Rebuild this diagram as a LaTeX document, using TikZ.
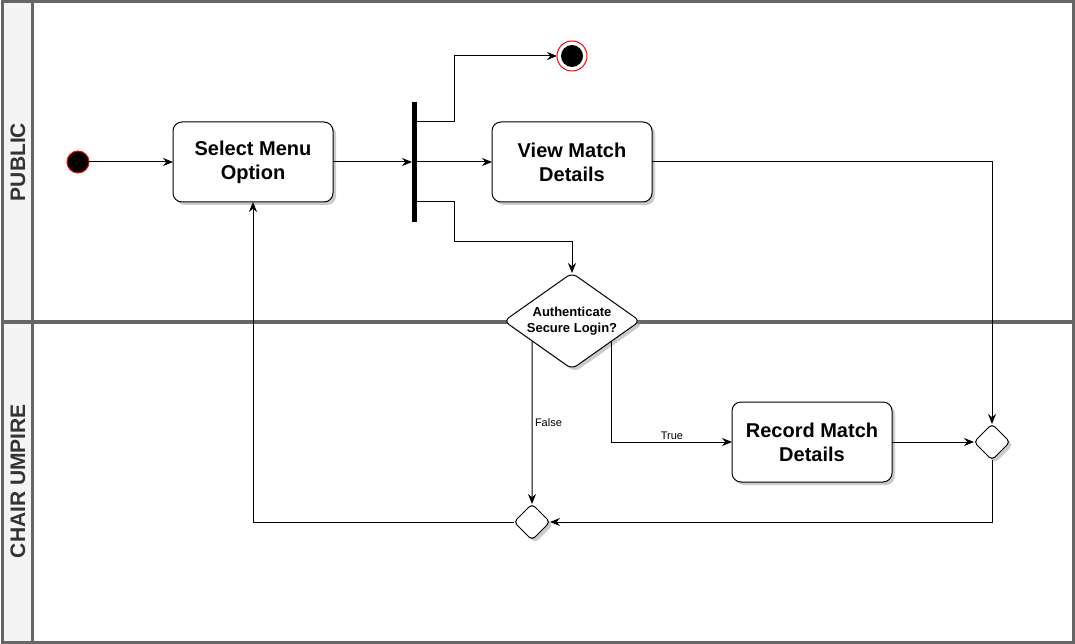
\documentclass[tikz,border=0pt]{standalone}
\usepackage{fontspec}
\setmainfont{Liberation Sans}
\usetikzlibrary{positioning, shapes.geometric, shadows, arrows.meta, calc}
\definecolor{lanegray}{HTML}{666666}
\definecolor{lanefill}{HTML}{F4F4F4}
\definecolor{lanetext}{HTML}{333333}

\begin{document}
\begin{tikzpicture}[
    x=1pt, y=-1pt,
    every node/.style={outer sep=0pt},
    nodeshadow/.style={drop shadow={shadow xshift=3pt, shadow yshift=-3pt, fill=black!45, opacity=0.45}},
    action/.style={draw, rectangle, rounded corners=9pt, line width=1pt, fill=white, minimum width=160pt, minimum height=80pt, align=center, font=\bfseries\fontsize{20}{24}\selectfont, nodeshadow},
    decision/.style={draw, diamond, aspect=1.4, rounded corners=6pt, line width=1pt, fill=white, inner sep=0pt, minimum width=136pt, minimum height=96pt, align=center, font=\bfseries\fontsize{13}{16}\selectfont, nodeshadow},
    merge/.style={draw, diamond, rounded corners=4pt, line width=1pt, fill=white, inner sep=0pt, minimum size=36pt, nodeshadow},
    initial/.style={draw=red, circle, fill=black, line width=1pt, minimum size=22pt, inner sep=0pt},
    final/.style={draw=red, circle, fill=white, line width=1pt, minimum size=30pt, inner sep=0pt,
        path picture={\fill[black] (path picture bounding box.center) circle (11pt);}},
    forkbar/.style={rectangle, fill=black, minimum width=5pt, minimum height=120pt, inner sep=0pt},
    lanelabel/.style={rotate=90, text=lanetext, font=\bfseries\fontsize{21}{24}\selectfont},
    edgelabel/.style={font=\fontsize{11}{13}\selectfont, inner sep=2pt},
    arrow/.style={-{Stealth[length=10pt, width=8pt]}, line width=1pt}
]
\useasboundingbox (0,0) rectangle (1075,644);

% swimlanes
\fill[lanefill] (3,3) rectangle (32,641);
\draw[lanegray, line width=3pt] (2,2) rectangle (1073,642);
\draw[lanegray, line width=3pt] (32,2) -- (32,642);
\draw[lanegray, line width=4pt] (2,322) -- (1073,322);
\node[lanelabel] (publane) at (18,162) {PUBLIC};
\node[lanelabel] (umplane) at (18,481) {CHAIR UMPIRE};

% activities
\node[initial] (start) at (78,162) {};
\node[action, right=84pt of start] (select) {Select Menu\\Option};
\node[forkbar, right=79pt of select] (fork) {};
\node[action, right=75pt of fork] (view) {View Match\\Details};
\node[final, above=51pt of view] (stop) {};
\node[decision, below=71pt of view] (login) {Authenticate\\Secure Login?};
\node[action] (record) at (812,442) {Record Match\\Details};
\node[merge, right=82pt of record] (mergeR) {};
\node[merge] (mergeB) at (532,522) {};

\coordinate (falseout) at ($(login.south)!0.588!(login.west)$);
\coordinate (trueout) at ($(login.south)!0.588!(login.east)$);

\draw[arrow] (start) -- (select);
\draw[arrow] (select) -- (fork);
\draw[arrow] (fork) -- (view);
\draw[arrow] ([yshift=40pt]fork.east) -- ++(37,0) |- (stop);
\draw[arrow] ([yshift=-40pt]fork.east) -- ++(37,0) -- ++(0,40) -| (login.north);
\draw[arrow] (view.east) -| (mergeR.north);
\draw[arrow] (falseout) -- node[edgelabel, right=1pt] {False} (mergeB.north);
\draw[arrow] (trueout) |- node[edgelabel, pos=0.75, above] {True} (record.west);
\draw[arrow] (record) -- (mergeR);
\draw[arrow] (mergeR.south) |- (mergeB.east);
\draw[arrow] (mergeB.west) -| (select.south);
\end{tikzpicture}
\end{document}
